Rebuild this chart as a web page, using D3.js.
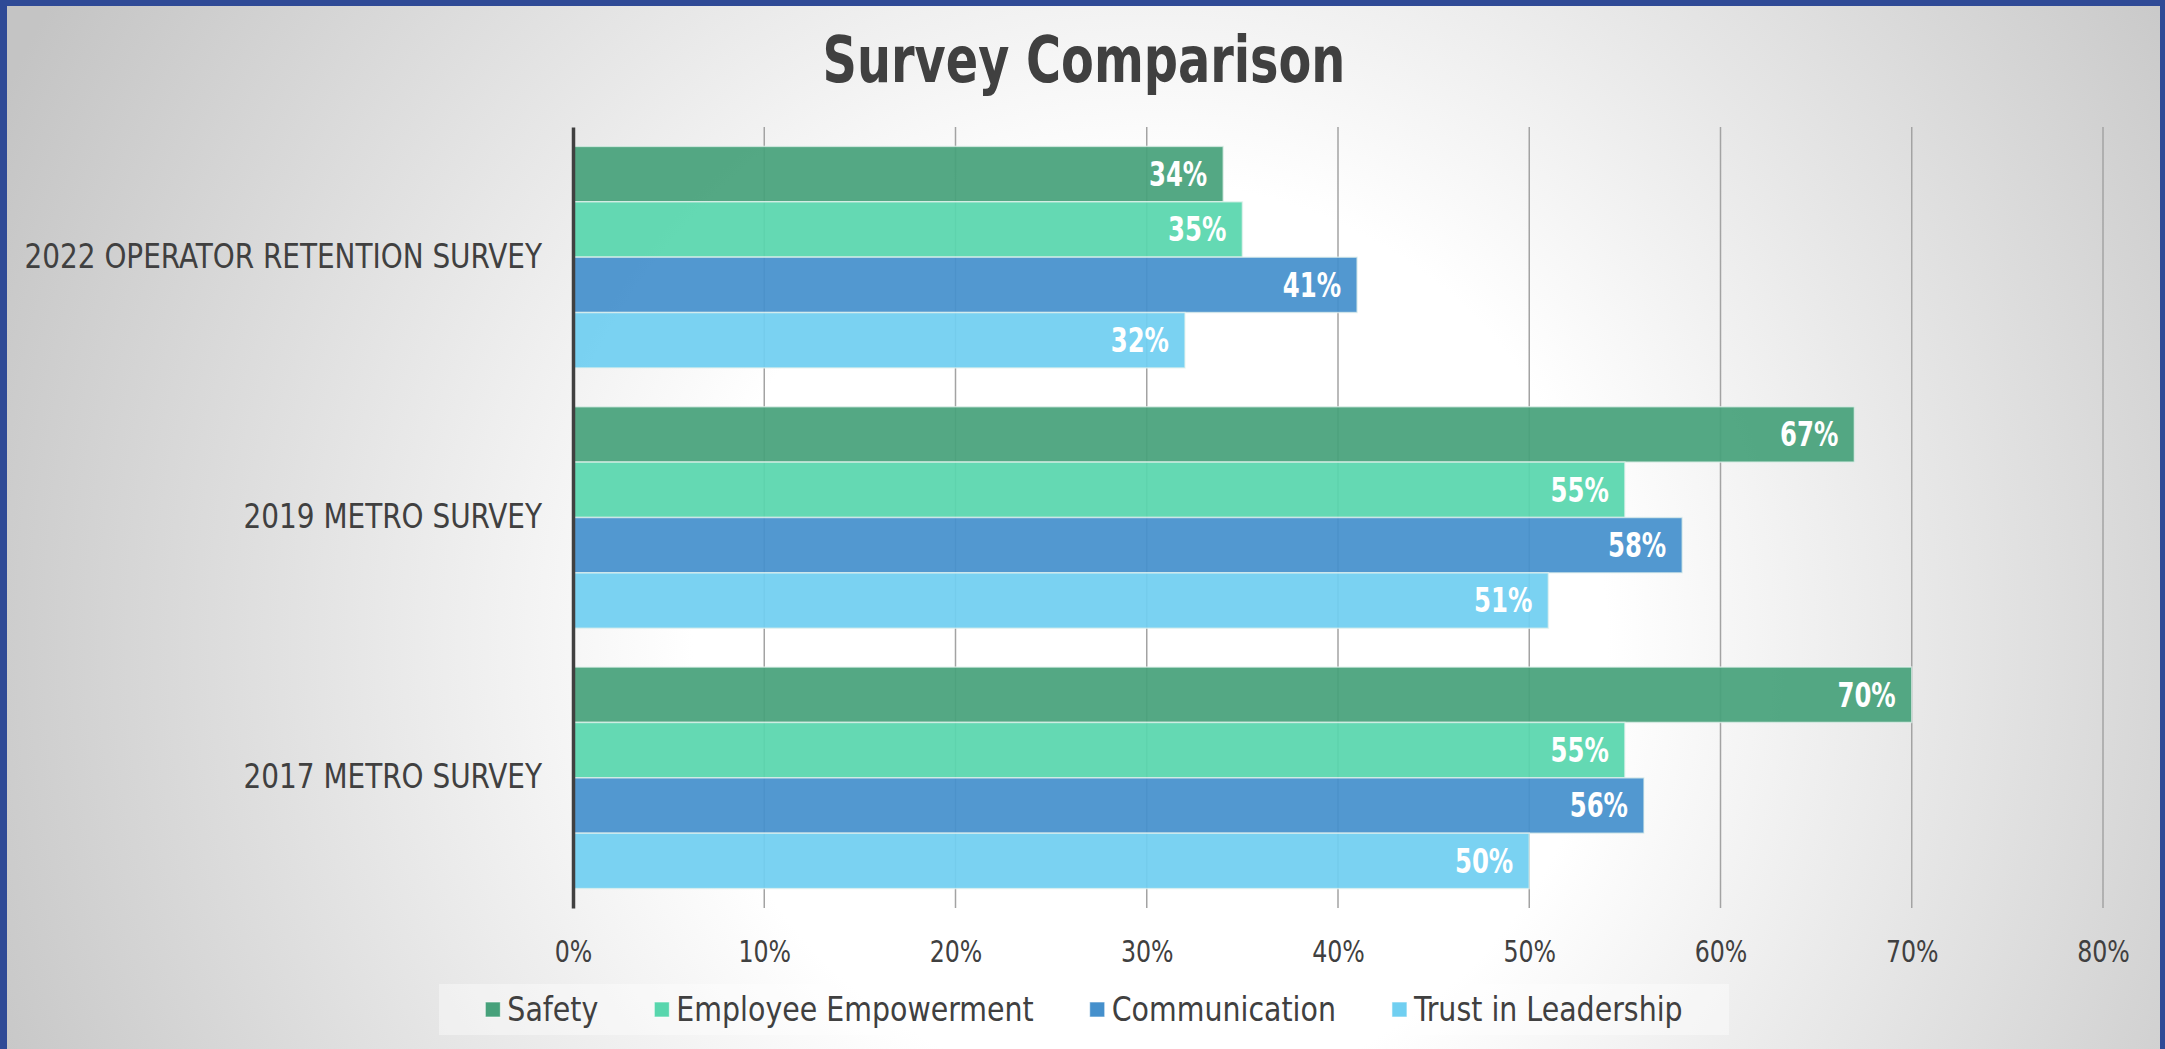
<!DOCTYPE html>
<html>
<head>
<meta charset="utf-8">
<script src="https://cdn.jsdelivr.net/npm/d3@7"></script>
<style>
  html, body { margin: 0; padding: 0; overflow: hidden; background: #2f4a96; }
  text { font-family: "DejaVu Sans Condensed", "DejaVu Sans", sans-serif; }
</style>
</head>
<body>
<div id="chart"></div>
<script>
// data
const surveys = ["2022 OPERATOR RETENTION SURVEY", "2019 METRO SURVEY", "2017 METRO SURVEY"];
const seriesNames = ["Safety", "Employee Empowerment", "Communication", "Trust in Leadership"];
const safety = [0.34, 0.67, 0.70];
const empowerment = [0.35, 0.55, 0.55];
const communication = [0.41, 0.58, 0.56];
const trust = [0.32, 0.51, 0.50];
const xTicks = [0, 0.1, 0.2, 0.3, 0.4, 0.5, 0.6, 0.7, 0.8];
const seriesColors = ["#47a17b", "#58d6ad", "#4590cc", "#70cff1"];

const allSeries = [safety, empowerment, communication, trust];
const rows = [];
surveys.forEach((s, i) => {
    seriesNames.forEach((n, j) => {
        rows.push({ survey: s, series: n, value: allSeries[j][i], color: seriesColors[j] });
    });
});

// the original font is narrower than anything installed, so squeeze text a bit
function condense(sel, f) {
    sel.each(function() {
        const w = this.getComputedTextLength();
        d3.select(this).attr("textLength", w * f).attr("lengthAdjust", "spacingAndGlyphs");
    });
}

const W = 2165, H = 1049;
const svg = d3.select("#chart").append("svg")
    .attr("width", W)
    .attr("height", H);

// background: blue frame + soft radial grey
const defs = svg.append("defs");
const grad = defs.append("radialGradient")
    .attr("id", "bg")
    .attr("gradientUnits", "userSpaceOnUse")
    .attr("cx", 1150).attr("cy", 640).attr("r", 1270);
grad.append("stop").attr("offset", "0").attr("stop-color", "#ffffff");
grad.append("stop").attr("offset", "0.36").attr("stop-color", "#ffffff");
grad.append("stop").attr("offset", "1").attr("stop-color", "#c4c4c4");

svg.append("rect").attr("width", W).attr("height", H).attr("fill", "#2f4a96");
svg.append("rect")
    .attr("x", 7).attr("y", 6)
    .attr("width", W - 12).attr("height", H - 6)
    .attr("fill", "url(#bg)");

// scales
const x = d3.scaleLinear().domain([0, 0.8]).range([573, 2103]);
const y = d3.scaleBand().domain(surveys).range([127, 908])
    .paddingInner(0.149).paddingOuter(0.0745);
const ySub = d3.scaleBand().domain(seriesNames).range([0, y.bandwidth()]);

// title
const title = svg.append("text")
    .attr("x", 1084)
    .attr("y", 82)
    .attr("text-anchor", "middle")
    .style("font-size", "64px")
    .style("font-weight", "bold")
    .attr("fill", "#404040")
    .text("Survey Comparison");
condense(title, 0.83);

// gridlines
svg.append("g")
    .selectAll("line")
    .data(xTicks.filter(d => d > 0))
    .enter()
    .append("line")
    .attr("x1", d => x(d)).attr("x2", d => x(d))
    .attr("y1", 127).attr("y2", 908)
    .attr("stroke", "#a3a3a3")
    .attr("stroke-width", 1.5);

// bars
svg.selectAll(".bar")
    .data(rows)
    .enter()
    .append("rect")
    .attr("class", "bar")
    .attr("x", x(0))
    .attr("y", d => y(d.survey) + ySub(d.series))
    .attr("width", d => x(d.value) - x(0))
    .attr("height", ySub.bandwidth())
    .attr("fill", d => d.color)
    .attr("fill-opacity", 0.93)
    .attr("stroke", "#e6f2ee")
    .attr("stroke-opacity", 0.7)
    .attr("stroke-width", 1.5);

// value labels
const labels = svg.selectAll(".label")
    .data(rows)
    .enter()
    .append("text")
    .attr("class", "label")
    .attr("x", d => x(d.value) - 16)
    .attr("y", d => y(d.survey) + ySub(d.series) + ySub.bandwidth() / 2)
    .attr("dy", "0.36em")
    .attr("text-anchor", "end")
    .style("font-size", "33px")
    .style("font-weight", "bold")
    .attr("fill", "#ffffff")
    .text(d => `${Math.round(d.value * 100)}%`);
condense(labels, 0.82);

// y axis (category labels, no ticks)
const yAxis = svg.append("g")
    .attr("transform", `translate(${x(0)},0)`)
    .call(d3.axisLeft(y).tickSize(0).tickPadding(31));
yAxis.select(".domain")
    .attr("stroke", "#404040")
    .attr("stroke-width", 3.5);
yAxis.selectAll("text")
    .style("font-family", "'DejaVu Sans Condensed', 'DejaVu Sans', sans-serif")
    .style("font-size", "33px")
    .attr("fill", "#404040");
condense(yAxis.selectAll("text"), 0.94);

// x axis (labels only)
const xAxis = svg.append("g")
    .attr("transform", "translate(0,908)")
    .call(d3.axisBottom(x).tickValues(xTicks).tickSize(0).tickPadding(32)
        .tickFormat(d => `${Math.round(d * 100)}%`));
xAxis.select(".domain").remove();
xAxis.selectAll("text")
    .style("font-family", "'DejaVu Sans Condensed', 'DejaVu Sans', sans-serif")
    .style("font-size", "31px")
    .attr("fill", "#404040");
condense(xAxis.selectAll("text"), 0.85);

// legend
const legendBox = { x: 439, y: 984, w: 1290, h: 51 };
svg.append("rect")
    .attr("x", legendBox.x).attr("y", legendBox.y)
    .attr("width", legendBox.w).attr("height", legendBox.h)
    .attr("fill", "#ffffff")
    .attr("fill-opacity", 0.4);

const legend = svg.append("g");
const items = legend.selectAll("g")
    .data(seriesNames)
    .enter()
    .append("g");
items.append("rect")
    .attr("width", 15).attr("height", 15)
    .attr("y", 1002)
    .attr("fill", (d, i) => seriesColors[i])
    .attr("stroke", "#ffffff")
    .attr("stroke-opacity", 0.6);
const legendText = items.append("text")
    .attr("x", 22)
    .attr("y", 1021)
    .style("font-size", "34px")
    .attr("fill", "#404040")
    .text(d => d);
condense(legendText, 0.93);

const gap = 56;
let widths = [];
items.each(function() {
    widths.push(22 + +d3.select(this).select("text").attr("textLength"));
});
const total = d3.sum(widths) + gap * (widths.length - 1);
let cx = legendBox.x + (legendBox.w - total) / 2;
items.each(function(d, i) {
    d3.select(this).attr("transform", `translate(${cx},0)`);
    cx += widths[i] + gap;
});
</script>
</body>
</html>
